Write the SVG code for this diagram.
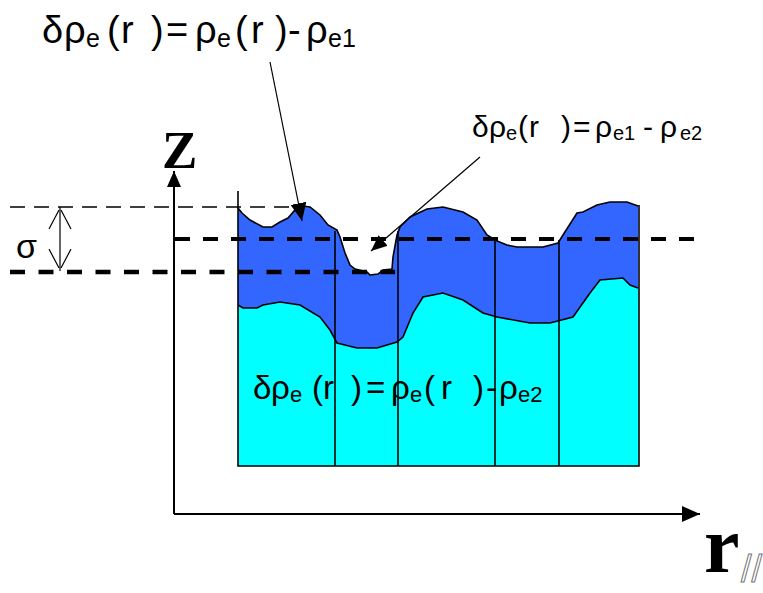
<svg xmlns="http://www.w3.org/2000/svg" width="763" height="593" viewBox="0 0 763 593">
<style>
.f{font-family:"Liberation Sans","Arial",sans-serif;fill:#000}
.t1{font-size:38px}.s1{font-size:25px}
.t2{font-size:30px}.s2{font-size:20px}
.t3{font-size:33px}.s3{font-size:22px}
.ax{stroke:#000;stroke-width:2;fill:none}
.edge{stroke:#000;stroke-width:1.6;fill:none}
.thin{stroke:#000;stroke-width:1.4;stroke-dasharray:15 9;fill:none}
.thick{stroke:#000;stroke-width:4.2;stroke-dasharray:15 13;fill:none}
.ptr{stroke:#000;stroke-width:1.2;fill:none}
</style>
<defs>
<marker id="ah" viewBox="0 0 18 16" refX="18" refY="8" markerWidth="18" markerHeight="16" markerUnits="userSpaceOnUse" orient="auto"><path d="M0,0 L18,8 L0,16 z" fill="#000"/></marker>
<marker id="ahs" viewBox="0 0 16 14" refX="16" refY="7" markerWidth="16" markerHeight="14" markerUnits="userSpaceOnUse" orient="auto"><path d="M0,0 L16,7 L0,14 z" fill="#000"/></marker>
<marker id="open" viewBox="0 0 22 24" refX="22" refY="12" markerWidth="22" markerHeight="24" markerUnits="userSpaceOnUse" orient="auto"><path d="M0,1 L19,11 M0,23 L19,13" stroke="#000" stroke-width="1.2" fill="none"/></marker>
</defs>
<rect width="763" height="593" fill="#fff"/>

<g id="surface">
<path id="cyan" fill="#00FFFF" d="M238,305 L243,308 L257,308 L263,305 L280,302 L300,305 L320,317 L330,330 L337,343 L357,348 L377,348 L397,342 L403,337 L413,313 L423,297 L443,293 L463,300 L483,313 L497,317 L530,323 L550,323 L573,317 L590,293 L600,280 L623,278 L630,285 L638,288 L638,466 L238,466 Z"/>
<path id="blue" fill="#3366FF" d="M238,208 L242,213 L250,220 L263,227 L272,227 L280,222 L288,218 L295,210 L303,206 L310,207 L320,215 L328,225 L337,230 L340,237 L345,253 L350,265 L355,269 L367,272 L370,275 L378,274 L383,270 L392,269 L393,257 L397,235 L400,227 L410,217 L427,209 L443,207 L463,212 L477,220 L487,235 L497,241 L507,245 L517,247 L543,247 L558,243 L563,235 L577,213 L583,212 L597,205 L610,202 L627,202 L638,206 L638,288 L630,285 L623,278 L600,280 L590,293 L573,317 L550,323 L530,323 L497,317 L483,313 L463,300 L443,293 L423,297 L413,313 L403,337 L397,342 L377,348 L357,348 L337,343 L330,330 L320,317 L300,305 L280,302 L263,305 L257,308 L243,308 L238,305 Z"/>
<path class="edge" d="M238,208 L242,213 L250,220 L263,227 L272,227 L280,222 L288,218 L295,210 L303,206 L310,207 L320,215 L328,225 L337,230 L340,237 L345,253 L350,265 L355,269 L367,272 L370,275 L378,274 L383,270 L392,269 L393,257 L397,235 L400,227 L410,217 L427,209 L443,207 L463,212 L477,220 L487,235 L497,241 L507,245 L517,247 L543,247 L558,243 L563,235 L577,213 L583,212 L597,205 L610,202 L627,202 L638,206"/>
<path class="edge" d="M238,305 L243,308 L257,308 L263,305 L280,302 L300,305 L320,317 L330,330 L337,343 L357,348 L377,348 L397,342 L403,337 L413,313 L423,297 L443,293 L463,300 L483,313 L497,317 L530,323 L550,323 L573,317 L590,293 L600,280 L623,278 L630,285 L638,288"/>
<path class="edge" d="M238,191 L238,466 L639,466 L639,205 M335,231 L335,466 M398,231 L398,466 M495,240 L495,466 M559,240 L559,466"/>
</g>

<g id="connectors">
<path class="thin" d="M10,207 L296,207"/>
<path class="thick" d="M175,239 L694,239"/>
<path class="thick" d="M10,272 L395,272" style="stroke-width:4.6;stroke-dasharray:15 13.5"/>
<path class="ax" d="M174,514 L174,171" marker-end="url(#ahs)"/>
<path class="ax" d="M174,514 L700,514" marker-end="url(#ah)"/>
<path class="ptr" d="M60,239 L60,207" marker-end="url(#open)"/>
<path class="ptr" d="M60,239 L60,271" marker-end="url(#open)"/>
<path class="ptr" d="M270,62 L302,221" marker-end="url(#ah)"/>
<path class="ptr" d="M480,157 L371,251" marker-end="url(#ahs)"/>
</g>

<g id="label-top">
<text class="f t1"><tspan x="42" y="43">δ</tspan><tspan x="64" y="43">ρ</tspan><tspan class="s1" x="86" y="47">e</tspan><tspan x="107" y="43">(</tspan><tspan x="121" y="43">r</tspan><tspan x="151" y="43">)</tspan><tspan x="166" y="43">=</tspan><tspan x="195" y="43">ρ</tspan><tspan class="s1" x="217" y="47">e</tspan><tspan x="235" y="43">(</tspan><tspan x="251" y="43">r</tspan><tspan x="275" y="43">)</tspan><tspan x="288" y="43">-</tspan><tspan x="306" y="43">ρ</tspan><tspan class="s1" x="328" y="47">e1</tspan></text>
</g>

<g id="label-mid">
<text class="f t2"><tspan x="472" y="137">δ</tspan><tspan x="489" y="137">ρ</tspan><tspan class="s2" x="506" y="140">e</tspan><tspan x="518" y="137">(</tspan><tspan x="529" y="137">r</tspan><tspan x="561" y="137">)</tspan><tspan x="573" y="137">=</tspan><tspan x="595" y="137">ρ</tspan><tspan class="s2" x="613" y="140">e1</tspan><tspan x="643" y="137">-</tspan><tspan x="660" y="137">ρ</tspan><tspan class="s2" x="680" y="140">e2</tspan></text>
</g>

<g id="label-low">
<text class="f t3"><tspan x="253" y="399">δ</tspan><tspan x="271" y="399">ρ</tspan><tspan class="s3" x="290" y="402">e</tspan><tspan x="312" y="399">(</tspan><tspan x="323" y="399">r</tspan><tspan x="351" y="399">)</tspan><tspan x="366" y="399">=</tspan><tspan x="391" y="399">ρ</tspan><tspan class="s3" x="410" y="402">e</tspan><tspan x="424" y="399">(</tspan><tspan x="441" y="399">r</tspan><tspan x="473" y="399">)</tspan><tspan x="486" y="399">-</tspan><tspan x="499" y="399">ρ</tspan><tspan class="s3" x="518" y="402">e2</tspan></text>
</g>

<g id="axis-labels">
<text x="704" y="572" font-family="Liberation Serif, serif" font-weight="bold" font-size="80">r</text>
<text x="741" y="582" font-family="Liberation Sans, sans-serif" font-size="38" fill="#fff" stroke="#777" stroke-width="1">//</text>
<text x="162" y="168" font-family="Liberation Serif, serif" font-weight="bold" font-size="53">Z</text>
<text x="16" y="258" font-family="Liberation Sans, sans-serif" font-size="34">σ</text>
</g>
</svg>
